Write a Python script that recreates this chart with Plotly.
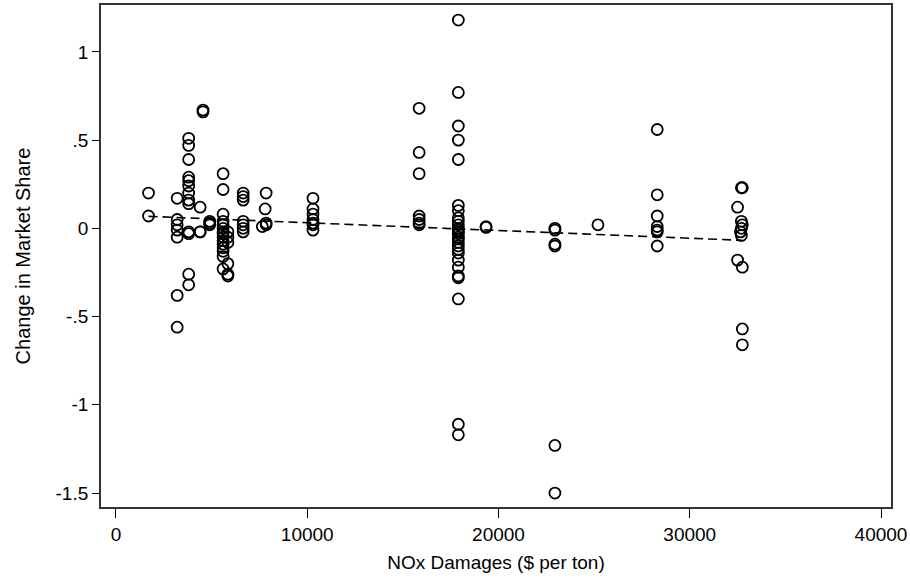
import numpy as np
import plotly.graph_objects as go

# NOx damages ($ per ton) groups and market-share changes
x_1700 = [1700, 1700]
y_1700 = [0.20, 0.07]
x_3200 = [3200] * 7
y_3200 = [0.17, 0.05, 0.02, -0.01, -0.05, -0.38, -0.56]
x_3800 = [3800] * 13
y_3800 = [0.51, 0.47, 0.39, 0.29, 0.27, 0.24, 0.20, 0.16, 0.14, -0.02, -0.03, -0.26, -0.32]
x_4400 = [4400] * 3
y_4400 = [0.12, -0.02, -0.02]
x_4550 = [4550, 4550]
y_4550 = [0.66, 0.67]
x_4900 = [4900] * 3
y_4900 = [0.03, 0.04, 0.02]
x_5600 = [5600] * 15
y_5600 = [0.31, 0.22, 0.08, 0.04, 0.02, 0.0, -0.02, -0.03, -0.05, -0.07, -0.09, -0.11, -0.13, -0.16, -0.23]
x_5850 = [5850] * 6
y_5850 = [-0.02, -0.05, -0.08, -0.20, -0.26, -0.27]
x_6650 = [6650] * 7
y_6650 = [0.20, 0.18, 0.16, 0.04, 0.02, 0.0, -0.02]
x_7800 = [7850, 7800, 7850, 7850, 7650]
y_7800 = [0.20, 0.11, 0.03, 0.02, 0.01]
x_10300 = [10300] * 7
y_10300 = [0.17, 0.11, 0.08, 0.05, 0.03, 0.02, -0.01]
x_15850 = [15850] * 7
y_15850 = [0.68, 0.43, 0.31, 0.07, 0.05, 0.03, 0.02]
x_17900 = [17900] * 27
y_17900 = [1.18, 0.77, 0.58, 0.50, 0.39, 0.13, 0.10, 0.06, 0.04, 0.02, 0.0, -0.01, -0.02,
           -0.03, -0.05, -0.06, -0.08, -0.10, -0.12, -0.14, -0.18, -0.22, -0.27, -0.28,
           -0.40, -1.11, -1.17]
x_19350 = [19350, 19350]
y_19350 = [0.01, 0.005]
x_22950 = [22950] * 6
y_22950 = [0.0, -0.01, -0.09, -0.10, -1.23, -1.50]
x_25200 = [25200]
y_25200 = [0.02]
x_28300 = [28300] * 7
y_28300 = [0.56, 0.19, 0.07, 0.01, -0.01, -0.02, -0.10]
x_32700 = [32750, 32700, 32500, 32700, 32750, 32700, 32650, 32700, 32500, 32750, 32750, 32750]
y_32700 = [0.23, 0.23, 0.12, 0.04, 0.02, 0.0, -0.02, -0.04, -0.18, -0.22, -0.57, -0.66]

# Fitted (linear) line as drawn in the chart: values at its two ends
fit_x = [1700, 32750]
fit_y = [0.068, -0.068]

x_groups = [x_1700, x_3200, x_3800, x_4400, x_4550, x_4900, x_5600, x_5850, x_6650, x_7800,
            x_10300, x_15850, x_17900, x_19350, x_22950, x_25200, x_28300, x_32700]
y_groups = [y_1700, y_3200, y_3800, y_4400, y_4550, y_4900, y_5600, y_5850, y_6650, y_7800,
            y_10300, y_15850, y_17900, y_19350, y_22950, y_25200, y_28300, y_32700]

x_vals = [v for g in x_groups for v in g]
y_vals = [v for g in y_groups for v in g]

y_tickvals = [-1.5, -1, -0.5, 0, 0.5, 1]
y_ticktext = ["-1.5", "-1", "-.5", "0", ".5", "1"]
x_tickvals = [0, 10000, 20000, 30000, 40000]
x_ticktext = ["0", "10000", "20000", "30000", "40000"]

fig = go.Figure()
fig.add_trace(go.Scatter(
    x=x_vals, y=y_vals, mode="markers",
    marker=dict(symbol="circle-open", size=11, color="black", line=dict(width=1.8, color="black")),
    showlegend=False,
))
fig.add_trace(go.Scatter(
    x=fit_x, y=fit_y, mode="lines",
    line=dict(color="black", width=1.6, dash="9px,5px"),
    showlegend=False,
))

font_family = "Liberation Sans, Arial, sans-serif"
fig.update_layout(
    width=910, height=578,
    margin=dict(l=101, r=19, t=3, b=71),
    paper_bgcolor="white", plot_bgcolor="white",
    font=dict(family=font_family, size=19, color="black"),
    xaxis=dict(
        range=[-784, 40523], tickvals=x_tickvals, ticktext=x_ticktext,
        showgrid=False, zeroline=False, showline=True, mirror=True,
        linecolor="#333", linewidth=1.8, ticks="outside", ticklen=9, tickwidth=1.2,
        tickcolor="black", tickfont=dict(size=19),
        title=dict(text="NOx Damages ($ per ton)", font=dict(size=19), standoff=12),
    ),
    yaxis=dict(
        range=[-1.579, 1.2655], tickvals=y_tickvals, ticktext=y_ticktext,
        showgrid=False, zeroline=False, showline=True, mirror=True,
        linecolor="#333", linewidth=1.8, ticks="outside", ticklen=7, tickwidth=1.2,
        tickcolor="black", tickfont=dict(size=19),
        title=dict(text="Change in Market Share", font=dict(size=20), standoff=20),
    ),
)

fig.write_html("out.html")
